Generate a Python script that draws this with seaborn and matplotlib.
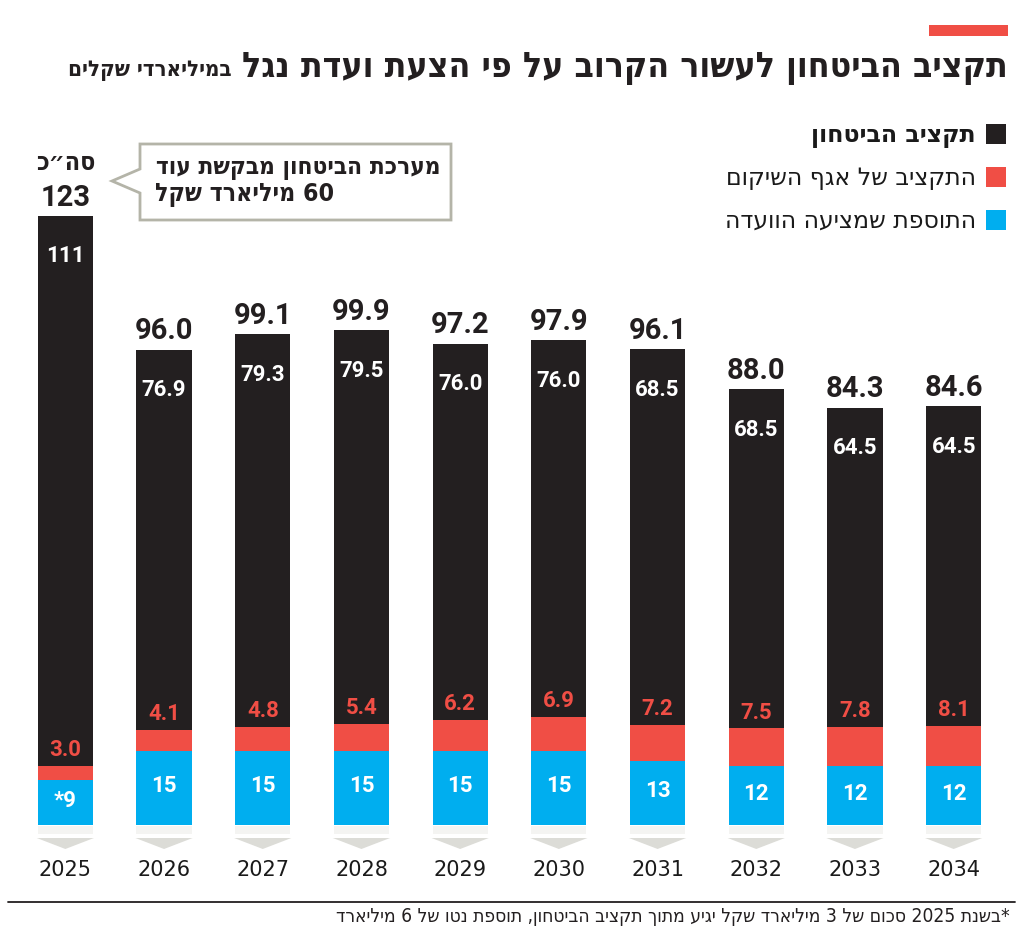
import re
import numpy as np
import pandas as pd
import matplotlib
matplotlib.use("Agg")
import matplotlib.pyplot as plt
from matplotlib.patches import Patch, Polygon, Rectangle
import seaborn as sns

# data (billions of shekels)
years = ["2025", "2026", "2027", "2028", "2029", "2030", "2031", "2032", "2033", "2034"]
committee_add = [9, 15, 15, 15, 15, 15, 13, 12, 12, 12]
rehab_budget = [3.0, 4.1, 4.8, 5.4, 6.2, 6.9, 7.2, 7.5, 7.8, 8.1]
defense_budget = [111, 76.9, 79.3, 79.5, 76.0, 76.0, 75.9, 68.5, 64.5, 64.5]
# printed labels (the 2031 label in the source reads 68.5)
defense_labels = ["111", "76.9", "79.3", "79.5", "76.0", "76.0", "68.5", "68.5", "64.5", "64.5"]
committee_labels = ["*9", "15", "15", "15", "15", "15", "13", "12", "12", "12"]
total_labels = ["123", "96.0", "99.1", "99.9", "97.2", "97.9", "96.1", "88.0", "84.3", "84.6"]

legend_names = ["תקציב הביטחון", "התקציב של אגף השיקום", "התוספת שמציעה הוועדה"]
title = "תקציב הביטחון לעשור הקרוב על פי הצעת ועדת נגל"
subtitle = "במיליארדי שקלים"
callout_1 = "מערכת הביטחון מבקשת עוד"
callout_2 = "60 מיליארד שקל"
total_word = "סה״כ"
footnote = "*בשנת 2025 סכום של 3 מיליארד שקל יגיע מתוך תקציב הביטחון, תוספת נטו של 6 מיליארד"

BLACK = "#231f20"
RED = "#f04e45"
BLUE = "#00aeef"
GREY = "#dcdcd7"


def rtl(s):
    # matplotlib has no bidi support: put hebrew in visual order, keep numbers
    r = s[::-1]
    return re.sub(r"\d+", lambda m: m.group(0)[::-1], r)


df = pd.DataFrame({
    "year": years,
    "blue": committee_add,
    "red": rehab_budget,
    "black": defense_budget,
})
df["red_top"] = df["blue"] + df["red"]
df["total"] = df["red_top"] + df["black"]

sns.set_theme(style="white")
plt.rcParams["font.family"] = ["DejaVu Sans"]
HEB = ["DejaVu Sans Condensed", "DejaVu Sans"]
NUM = ["Roboto", "DejaVu Sans"]

W, H = 1024, 934
fig = plt.figure(figsize=(W / 100, H / 100), dpi=100)


def fx(x):
    return x / W


def fy(y):
    return 1 - y / H


px_per_unit = 4.95
ax = fig.add_axes([fx(16), fy(825), 987 / W, 130 * px_per_unit / H])

bar_w = 0.56
sns.barplot(data=df, x="year", y="total", color=BLACK, saturation=1, width=bar_w,
            linewidth=0, ax=ax)
sns.barplot(data=df, x="year", y="red_top", color=RED, saturation=1, width=bar_w,
            linewidth=0, ax=ax)
sns.barplot(data=df, x="year", y="blue", color=BLUE, saturation=1, width=bar_w,
            linewidth=0, ax=ax)

ax.set_xlim(-0.5, len(years) - 0.5)
ax.set_ylim(0, 130)
ax.set_xlabel("")
ax.set_ylabel("")
ax.set_yticks([])
sns.despine(ax=ax, left=True, bottom=True)
ax.tick_params(axis="x", length=0, pad=25, labelsize=15, labelcolor="#1a1a1a")

# light strip and grey arrow under every bar
u = 1 / px_per_unit
for i in range(len(years)):
    ax.add_patch(Rectangle((i - bar_w / 2, -9 * u), bar_w, 8 * u, color="#f4f4f2",
                           clip_on=False, lw=0))
    ax.add_patch(Polygon([(i - bar_w / 2 - 0.01, -13 * u), (i + bar_w / 2 + 0.01, -13 * u),
                          (i, -24 * u)], closed=True, color=GREY, clip_on=False, lw=0))

# value labels
for i, row in df.iterrows():
    ax.annotate(total_labels[i], (i, row["total"]), xytext=(0, 7.5), textcoords="offset points",
                ha="center", va="baseline", fontsize=21, fontweight="bold", color=BLACK,
                family=NUM)
    ax.annotate(defense_labels[i], (i, row["total"]), xytext=(0, -29), textcoords="offset points",
                ha="center", va="center", fontsize=16, fontweight="bold", color="white",
                family=NUM)
    ax.annotate(f"{row['red']:.1f}", (i, row["red_top"]), xytext=(0, 11.5),
                textcoords="offset points", ha="center", va="center", fontsize=16,
                fontweight="bold", color=RED, family=NUM)
    ax.annotate(committee_labels[i], (i, row["blue"] / 2), xytext=(0, 1),
                textcoords="offset points", ha="center", va="center", fontsize=16,
                fontweight="bold", color="white", family=NUM)

ax.annotate(rtl(total_word), (0, df["total"][0]), xytext=(0, 33), textcoords="offset points",
            ha="center", va="baseline", fontsize=18, fontweight="bold", color=BLACK,
            family=HEB, fontstretch="condensed")

# title block
fig.add_artist(Rectangle((fx(929), fy(36)), 79 / W, 11 / H, color=RED, lw=0))
fig.text(fx(1008), fy(77), rtl(title), ha="right", va="baseline", fontsize=25.5,
         fontweight="bold", color=BLACK, family=HEB, fontstretch="condensed")
fig.text(fx(232), fy(76), rtl(subtitle), ha="right", va="baseline", fontsize=16,
         fontweight="bold", color=BLACK, family=HEB, fontstretch="condensed")

# legend, squares on the right
handles = [Patch(color=c, lw=0) for c in (BLACK, RED, BLUE)]
leg = fig.legend(handles, [rtl(n) for n in legend_names], loc="upper right",
                 bbox_to_anchor=(fx(1006), fy(123)), frameon=False, markerfirst=False,
                 fontsize=17, handlelength=0.85, handleheight=0.95, handletextpad=0.42,
                 labelspacing=0.78, borderpad=0, borderaxespad=0)
for t in leg.get_texts():
    t.set_color("#1a1a1a")
leg.get_texts()[0].set_fontweight("bold")

# callout box
box = [(140, 144), (451, 144), (451, 220), (140, 220), (140, 193), (112, 181), (140, 169)]
fig.add_artist(Polygon([(fx(x), fy(y)) for x, y in box], closed=True, facecolor="white",
                       edgecolor="#b4b4a8", lw=2, transform=fig.transFigure))
fig.text(fx(440), fy(168), rtl(callout_1), ha="right", va="center", fontsize=17.5,
         color=BLACK, family=HEB, fontstretch="condensed", fontweight="semibold")
fig.text(fx(155), fy(195), rtl(callout_2), ha="left", va="center", fontsize=17.8,
         color=BLACK, family=HEB, fontstretch="condensed", fontweight="bold")

# footnote
fig.add_artist(plt.Line2D([fx(8), fx(1015)], [fy(902), fy(902)], color=BLACK, lw=1.3))
fig.text(fx(1010), fy(917), rtl(footnote), ha="right", va="center", fontsize=13.8,
         color=BLACK, family=HEB, fontstretch="condensed")

fig.savefig("out.png", dpi=100, facecolor="white")
